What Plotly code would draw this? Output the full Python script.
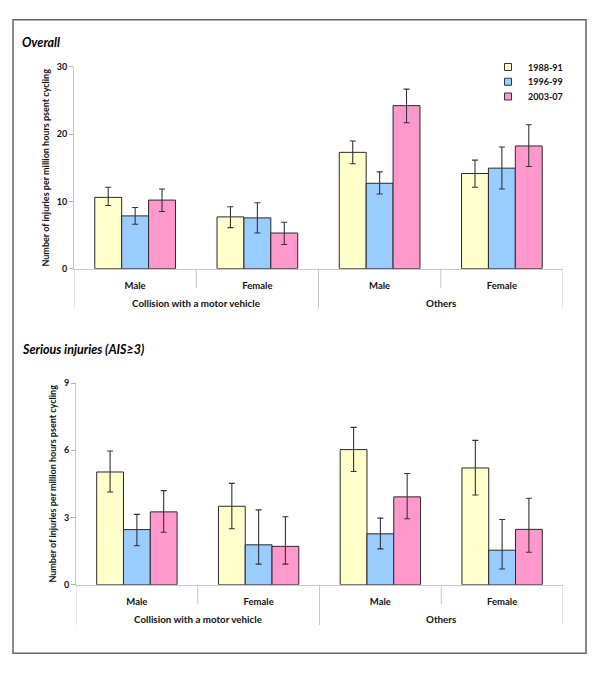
import plotly.graph_objects as go

# ---------------- data ----------------
subcats = ["Male", "Female", "Male", "Female"]
groups = ["Collision with a motor vehicle", "Others"]
periods = ["1988-91", "1996-99", "2003-07"]
colors = ["#FFFFCC", "#99CCFF", "#FF99CC"]

# Overall
overall_1988 = [10.6, 7.7, 17.3, 14.15]
overall_1996 = [7.85, 7.55, 12.7, 14.95]
overall_2003 = [10.2, 5.3, 24.25, 18.25]
overall_1988_hi = [12.1, 9.2, 19.0, 16.15]
overall_1988_lo = [9.4, 6.1, 15.6, 12.1]
overall_1996_hi = [9.1, 9.8, 14.4, 18.1]
overall_1996_lo = [6.6, 5.3, 11.1, 11.85]
overall_2003_hi = [11.85, 6.9, 26.7, 21.4]
overall_2003_lo = [8.5, 3.6, 21.7, 15.2]

# Serious injuries (AIS>=3)
serious_1988 = [5.03, 3.5, 6.03, 5.21]
serious_1996 = [2.46, 1.78, 2.27, 1.54]
serious_2003 = [3.25, 1.71, 3.92, 2.47]
serious_1988_hi = [5.97, 4.52, 7.02, 6.44]
serious_1988_lo = [4.14, 2.5, 5.05, 4.0]
serious_1996_hi = [3.14, 3.34, 2.97, 2.91]
serious_1996_lo = [1.74, 0.92, 1.6, 0.7]
serious_2003_hi = [4.2, 3.03, 4.96, 3.86]
serious_2003_lo = [2.34, 0.92, 2.94, 1.45]

FONT = "Lato"
xpos = list(range(len(subcats)))
legend_names = ["legend", "legend2", "legend3"]

fig = go.Figure()

panels = [
    ("x", "y", [overall_1988, overall_1996, overall_2003],
     [overall_1988_hi, overall_1996_hi, overall_2003_hi],
     [overall_1988_lo, overall_1996_lo, overall_2003_lo], True),
    ("x2", "y2", [serious_1988, serious_1996, serious_2003],
     [serious_1988_hi, serious_1996_hi, serious_2003_hi],
     [serious_1988_lo, serious_1996_lo, serious_2003_lo], False),
]

for xa, ya, vals, his, los, top in panels:
    for i in range(3):
        v = vals[i]
        fig.add_trace(go.Bar(
            x=xpos, y=v, name=periods[i], xaxis=xa, yaxis=ya,
            offsetgroup=str(i), showlegend=False,
            marker=dict(color=colors[i], line=dict(color="#2a2a2a", width=1)),
            error_y=dict(type="data", symmetric=False,
                         array=[h - a for h, a in zip(his[i], v)],
                         arrayminus=[a - l for a, l in zip(v, los[i])],
                         color="#333333", thickness=1.1, width=3),
        ))

# legend entries (small square swatches, as in the original)
for i in range(3):
    fig.add_trace(go.Scatter(
        x=[None], y=[None], mode="markers", name=periods[i],
        xaxis="x", yaxis="y", legend=legend_names[i], showlegend=True,
        marker=dict(symbol="square", size=7, color=colors[i],
                    line=dict(color="#333333", width=1)),
    ))

axis_common = dict(
    showgrid=False, zeroline=False, showline=True, linecolor="#c8c8c8",
    linewidth=1,
)
xax = dict(axis_common, range=[-0.5, 3.5], tickvals=xpos, ticktext=subcats,
           ticks="outside", ticklen=8, tickcolor="rgba(0,0,0,0)",
           tickfont=dict(family=FONT, size=9.5, color="#111", weight="bold"))
yfont = dict(family=FONT, size=9, color="#111", weight="bold")
ytitle = dict(text="Number of injuries per million hours psent cycling",
              font=dict(family=FONT, size=9, color="#111", weight="bold"), standoff=5)

legfont = dict(family=FONT, size=9, color="#111", weight="bold")
leg_y = [62, 77, 92]
leg_layout = {}
for i in range(3):
    leg_layout[legend_names[i]] = dict(
        x=488/600, y=1-leg_y[i]/674, xanchor="left", yanchor="middle",
        font=legfont, bgcolor="rgba(0,0,0,0)", borderwidth=0)

fig.update_layout(
    width=600, height=674, margin=dict(l=0, r=0, t=0, b=0),
    paper_bgcolor="white", plot_bgcolor="white",
    barmode="group", bargap=0.34, bargroupgap=0,
    xaxis=dict(xax, domain=[74/600, 563/600], anchor="y"),
    yaxis=dict(axis_common, domain=[1-267/674, 1-62/674], range=[0, 30], dtick=10,
               ticks="outside", ticklen=4, tickcolor="#b0b0b0",
               tickfont=yfont, title=ytitle, anchor="x"),
    xaxis2=dict(xax, domain=[76/600, 563/600], anchor="y2"),
    yaxis2=dict(axis_common, domain=[1-588.3/674, 1-383.3/674], range=[0, 9], dtick=3,
                ticks="outside", ticklen=4, tickcolor="#b0b0b0",
                tickfont=yfont, title=ytitle, anchor="x2"),
    showlegend=True,
    **leg_layout,
)

shapes = []
annotations = []
# outer frame
shapes.append(dict(type="rect", xref="paper", yref="paper",
                   x0=13/600, x1=586/600, y0=1-658/674, y1=1-14/674,
                   line=dict(color="#666666", width=1.5), fillcolor="rgba(0,0,0,0)"))

for xa, ya, hpx in [("x", "y", 205.0), ("x2", "y2", 205.0)]:
    short = 20 / hpx
    long_ = 41 / hpx
    for b in [-0.5, 0.5, 1.5, 2.5, 3.5]:
        depth = long_ if b in (-0.5, 1.5, 3.5) else short
        shapes.append(dict(type="line", xref=xa, yref=ya + " domain",
                           x0=b, x1=b, y0=0, y1=-depth,
                           line=dict(color="#c8c8c8", width=1)))
    for gi, g in enumerate(groups):
        annotations.append(dict(text=g, xref=xa, yref=ya + " domain",
                                x=gi * 2 + 0.5, y=-35 / hpx, yanchor="middle",
                                showarrow=False,
                                font=dict(family=FONT, size=9.8, color="#111", weight="bold")))

annotations.append(dict(text="Overall", xref="paper", yref="paper",
                        x=20/600, y=1-37/674, xanchor="left", yanchor="middle",
                        showarrow=False,
                        font=dict(family=FONT, size=12.5, color="#000", weight="bold", style="italic")))
annotations.append(dict(text="Serious injuries (AIS≥3)", xref="paper", yref="paper",
                        x=20/600, y=1-349/674, xanchor="left", yanchor="middle",
                        showarrow=False,
                        font=dict(family=FONT, size=12.5, color="#000", weight="bold", style="italic")))

fig.update_layout(shapes=shapes, annotations=annotations)
fig.write_html("out.html", config={"displayModeBar": False},
               post_script="document.body.style.margin='0';document.body.style.overflow='hidden';")
